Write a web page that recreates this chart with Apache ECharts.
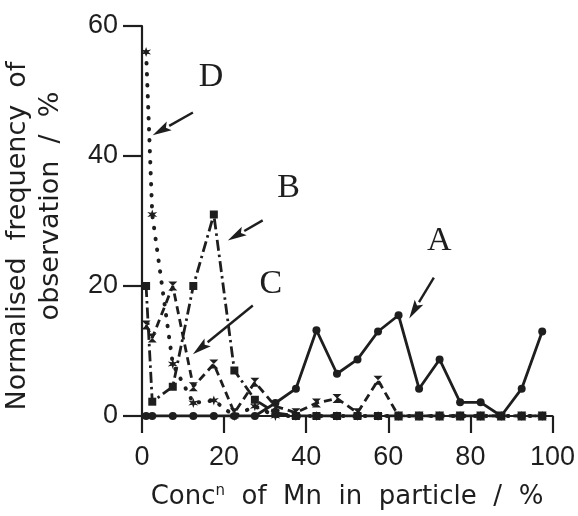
<!DOCTYPE html>
<html>
<head>
<meta charset="utf-8">
<script src="https://cdn.jsdelivr.net/npm/echarts@6/dist/echarts.min.js"></script>
<style>
  html, body { margin: 0; padding: 0; background: #fff; }
  #chart { width: 578px; height: 516px; }
</style>
</head>
<body>
<div id="chart"></div>
<script>
// Mn concentration bins (% Mn in particle)
const concMn = [1, 2.5, 7.5, 12.5, 17.5, 22.5, 27.5, 32.5, 37.5, 42.5, 47.5,
                52.5, 57.5, 62.5, 67.5, 72.5, 77.5, 82.5, 87.5, 92.5, 97.5];

// Normalised frequency of observation (%) for each particle population
const freqA = [0, 0, 0, 0, 0, 0, 0, 2, 4.2, 13.2, 6.5, 8.7, 13, 15.5, 4.2, 8.7, 2.1, 2.1, 0, 4.2, 13];
const freqB = [20, 2.2, 4.5, 20, 31, 7, 2.5, 0.5, 0, 0, 0, 0, 0, 0, 0, 0, 0, 0, 0, 0, 0];
const freqC = [14, 12, 20, 4.5, 8, 0.5, 5.2, 1.5, 0.5, 2, 2.7, 0.5, 5.5, 0, 0, 0, 0, 0, 0, 0, 0];
const freqD = [56, 31, 8, 2, 2.4, 0, 1.5, 0, 0, 0, 0, 0, 0, 0, 0, 0, 0, 0, 0, 0, 0];

// Axis tick values
const xTicks = [0, 20, 40, 60, 80, 100];
const yTicks = [0, 20, 40, 60];

// Curve labels with their pointer arrows, in data coordinates
const curveLabels = [
  { name: 'D', at: [16.8, 52.1], from: [12.4, 46.7], to: [2.6, 43.2] },
  { name: 'B', at: [35.7, 35.0], from: [29.4, 30.1], to: [20.9, 27.0] },
  { name: 'C', at: [31.4, 20.3], from: [27.0, 17.0], to: [12.4, 9.5] },
  { name: 'A', at: [72.4, 26.9], from: [71.1, 21.3], to: [65.1, 15.0] }
];

const ink = '#1e1e1e';
const pairs = ys => concMn.map((x, i) => [x, ys[i]]);

const hourglass = 'path://M0,0 L10,0 L5,5 L10,10 L0,10 L5,5 Z';
const asterisk = 'path://M5,0 L6,3.3 L9.3,2.5 L7,5 L9.3,7.5 L6,6.7 L5,10 L4,6.7 L0.7,7.5 L3,5 L0.7,2.5 L4,3.3 Z';

const chart = echarts.init(document.getElementById('chart'), null, { renderer: 'canvas' });

const axisFont = '"Liberation Sans", sans-serif';
const titleFont = '"DejaVu Sans", sans-serif';

function lineSeries(name, ys, symbol, size, dash) {
  return {
    name: name,
    type: 'line',
    data: pairs(ys),
    symbol: symbol,
    symbolSize: size,
    showAllSymbol: true,
    itemStyle: { color: ink, borderWidth: 0 },
    lineStyle: { color: ink, width: dash === 'dot' ? 4 : 2.8,
                 type: dash === 'dot' ? [0.5, 10.5] : dash,
                 cap: dash === 'dot' ? 'round' : 'butt' },
    emphasis: { disabled: true },
    animation: false,
    z: 3
  };
}

chart.setOption({
  backgroundColor: '#ffffff',
  animation: false,
  grid: { left: 142, right: 24, top: 26, bottom: 100, containLabel: false },
  xAxis: {
    type: 'value',
    min: xTicks[0], max: xTicks[xTicks.length - 1],
    interval: xTicks[1] - xTicks[0],
    axisLine: { show: true, onZero: false, lineStyle: { color: ink, width: 2.2 } },
    axisTick: { show: true, inside: false, length: 17, lineStyle: { color: ink, width: 2.2 } },
    splitLine: { show: false },
    axisLabel: { color: ink, fontFamily: axisFont, fontSize: 27, margin: 28 }
  },
  yAxis: {
    type: 'value',
    min: yTicks[0], max: yTicks[yTicks.length - 1],
    interval: yTicks[1] - yTicks[0],
    axisLine: { show: true, onZero: false, lineStyle: { color: ink, width: 2.2 } },
    axisTick: { show: true, inside: false, length: 19, lineStyle: { color: ink, width: 2.2 } },
    splitLine: { show: false },
    axisLabel: { color: ink, fontFamily: axisFont, fontSize: 27, margin: 24 }
  },
  series: [
    lineSeries('A', freqA, 'circle', 8, 'solid'),
    lineSeries('B', freqB, 'rect', 8, [11, 4, 2.5, 4]),
    lineSeries('C', freqC, hourglass, 9, [8, 5]),
    lineSeries('D', freqD, asterisk, 10, 'dot')
  ]
});

// Labels, pointer arrows and axis titles
function arrow(from, to) {
  const p0 = chart.convertToPixel({ gridIndex: 0 }, from);
  const p1 = chart.convertToPixel({ gridIndex: 0 }, to);
  const dx = p1[0] - p0[0], dy = p1[1] - p0[1];
  const len = Math.hypot(dx, dy);
  const ux = dx / len, uy = dy / len;
  const head = 19, half = 5;
  const bx = p1[0] - ux * head, by = p1[1] - uy * head;
  return [
    { type: 'line', silent: true, z: 10,
      shape: { x1: p0[0], y1: p0[1], x2: bx, y2: by },
      style: { stroke: ink, lineWidth: 2.4 } },
    { type: 'polygon', silent: true, z: 10,
      shape: { points: [[p1[0], p1[1]],
                        [bx - uy * half, by + ux * half],
                        [p1[0] - ux * head * 0.8, p1[1] - uy * head * 0.8],
                        [bx + uy * half, by - ux * half]] },
      style: { fill: ink } }
  ];
}

const graphics = [];
curveLabels.forEach(c => {
  const p = chart.convertToPixel({ gridIndex: 0 }, c.at);
  graphics.push({
    type: 'text', silent: true, z: 10, x: p[0], y: p[1],
    style: { text: c.name, fill: ink, font: '34px "Liberation Serif", serif',
             align: 'center', verticalAlign: 'middle' }
  });
  arrow(c.from, c.to).forEach(g => graphics.push(g));
});

graphics.push({
  type: 'text', silent: true, x: 347, y: 497,
  style: {
    text: 'Conc{sup|n}  of  Mn  in  particle  /  %',
    fill: ink, font: '26px ' + titleFont, align: 'center', verticalAlign: 'middle',
    rich: { sup: { fontSize: 15, fontFamily: 'DejaVu Sans', verticalAlign: 'top', padding: [0, 0, 12, 0], fill: ink } }
  }
});
graphics.push({
  type: 'text', silent: true, x: 18, y: 236, rotation: Math.PI / 2,
  style: { text: 'Normalised  frequency  of', fill: ink, font: '27px ' + titleFont,
           align: 'center', verticalAlign: 'middle' }
});
graphics.push({
  type: 'text', silent: true, x: 51, y: 206, rotation: Math.PI / 2,
  style: { text: 'observation  /  %', fill: ink, font: '27px ' + titleFont,
           align: 'center', verticalAlign: 'middle' }
});

chart.setOption({ graphic: graphics });
</script>
</body>
</html>
